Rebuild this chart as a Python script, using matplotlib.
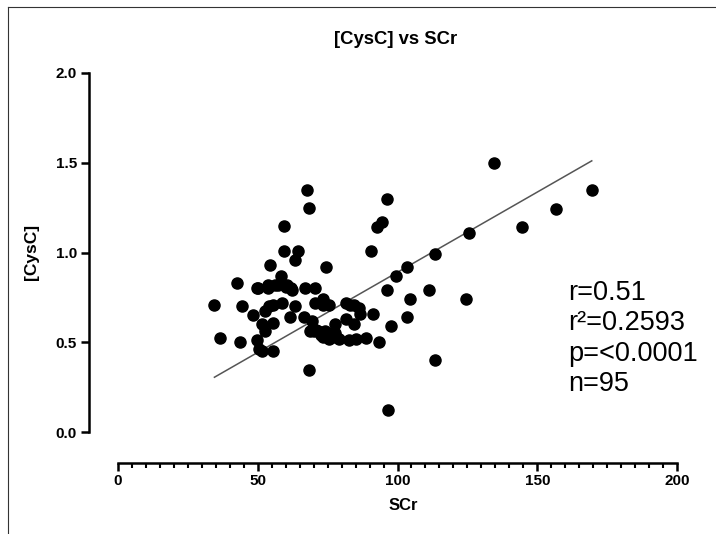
import matplotlib
matplotlib.use('Agg')
import matplotlib.pyplot as plt
from matplotlib.lines import Line2D
from matplotlib.ticker import MultipleLocator
import numpy as np

# SCr (x) and [CysC] (y)
scr = [134.5, 169.5, 156.6, 144.5, 125.6, 113.5, 103.5, 99.5, 96.4, 92.6,
       94.5, 90.4, 96.4, 111.4, 104.5, 124.6, 113.5, 96.5, 103.5, 97.5,
       93.5, 88.6, 82.8, 84.5, 91.4, 86.2, 86.6, 84.4, 81.5, 81.5,
       77.6, 77.6, 74.7, 71.7, 68.7, 73.4, 75.6, 69.5, 66.5, 73.4,
       73.5, 75.6, 70.5, 70.5, 74.4, 67.5, 68.4, 59.5, 59.5, 64.5,
       63.5, 54.5, 58.4, 42.4, 49.6, 53.5, 53.5, 57.4, 60.5, 62.4,
       34.5, 44.5, 55.6, 58.5, 63.5, 48.4, 52.6, 61.5, 51.4, 55.6,
       52.6, 36.5, 43.6, 49.6, 50.6, 51.6, 55.6, 68.4,
       72.5, 74.0, 76.5, 71.0, 79.0, 83.0, 67.0, 56.0, 50.0, 60.0,
       73.0, 75.0, 78.0, 85.0, 62.0, 70.0, 54.0]
cysc = [1.50, 1.35, 1.24, 1.14, 1.11, 0.99, 0.92, 0.87, 1.30, 1.14,
        1.17, 1.01, 0.79, 0.79, 0.74, 0.74, 0.40, 0.12, 0.64, 0.59,
        0.50, 0.525, 0.515, 0.60, 0.66, 0.69, 0.66, 0.71, 0.72, 0.63,
        0.60, 0.55, 0.55, 0.56, 0.56, 0.53, 0.52, 0.62, 0.64, 0.74,
        0.71, 0.71, 0.80, 0.72, 0.92, 1.35, 1.25, 1.15, 1.01, 1.01,
        0.96, 0.93, 0.87, 0.83, 0.80, 0.82, 0.80, 0.82, 0.82, 0.79,
        0.71, 0.70, 0.71, 0.72, 0.70, 0.65, 0.675, 0.64, 0.60, 0.61,
        0.56, 0.525, 0.50, 0.51, 0.46, 0.45, 0.45, 0.345,
        0.54, 0.56, 0.53, 0.57, 0.52, 0.71, 0.80, 0.82, 0.80, 0.81,
        0.72, 0.54, 0.53, 0.52, 0.80, 0.56, 0.70]

# regression line as drawn in the picture
fit_slope = 0.00893
fit_intercept = -0.003

stats_text = 'r=0.51\nr²=0.2593\np=<0.0001\nn=95'

plt.rcParams['font.family'] = ['Liberation Sans', 'DejaVu Sans']

W, H = 716, 534
fig = plt.figure(figsize=(W / 100, H / 100), dpi=100)
ax = fig.add_axes([118 / W, 1 - 432 / H, (677 - 118) / W, (432 - 73) / H])

ax.plot(scr, cysc, 'o', color='black', ms=8, mec='black', zorder=3)

xs = np.array([min(scr), max(scr)])
ax.plot(xs, fit_slope * xs + fit_intercept, color='#555555', lw=1.1, zorder=2)

ax.set_xlim(0, 200)
ax.set_ylim(0, 2)
ax.xaxis.set_major_locator(MultipleLocator(50))
ax.xaxis.set_minor_locator(MultipleLocator(5))
ax.yaxis.set_major_locator(MultipleLocator(0.5))
ax.set_yticklabels([f'{v:.1f}' for v in ax.get_yticks()])

for s in ['top', 'right']:
    ax.spines[s].set_visible(False)
ax.spines['left'].set_position(('outward', 21))
ax.spines['bottom'].set_position(('outward', 22))
ax.spines['left'].set_linewidth(1.8)
ax.spines['bottom'].set_linewidth(1.8)
ax.tick_params(axis='both', which='major', width=1.8, length=5.5,
               labelsize=11, pad=3)
ax.tick_params(axis='x', which='minor', width=1.5, length=3.5)
for lab in ax.get_xticklabels() + ax.get_yticklabels():
    lab.set_fontweight('bold')

fig.text(396 / W, 1 - 40 / H, '[CysC] vs SCr', ha='center', va='center',
         fontsize=13.3, fontweight='bold')
fig.text(403 / W, 1 - 505 / H, 'SCr', ha='center', va='center',
         fontsize=12, fontweight='bold')
fig.text(32 / W, 1 - 252 / H, '[CysC]', ha='center', va='center',
         rotation=90, fontsize=12.5, fontweight='bold')
fig.text(568 / W, 1 - 280 / H, stats_text, ha='left', va='top',
         fontsize=19.5, linespacing=1.22)

# thin frame at the top and left edge of the screenshot
fig.add_artist(Line2D([8 / W, 1], [1 - 7 / H, 1 - 7 / H], color='#333333', lw=0.8))
fig.add_artist(Line2D([8 / W, 8 / W], [0, 1 - 7 / H], color='#333333', lw=0.8))

fig.savefig('out.png', dpi=100)
